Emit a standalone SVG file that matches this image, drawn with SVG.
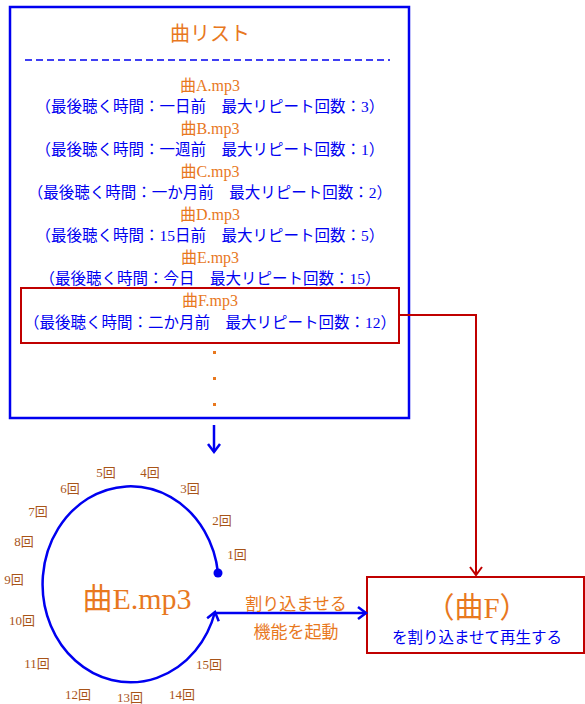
<svg xmlns="http://www.w3.org/2000/svg" width="585" height="704" viewBox="0 0 585 704">
<defs>
<style>
.or{fill:#E8781E;font-family:"Liberation Serif","Noto Sans CJK JP",serif;text-anchor:middle}
.bl{fill:#0000F0;font-family:"Liberation Serif","Noto Sans CJK JP",serif;text-anchor:middle;font-size:15.5px}
.cnt{fill:#A85418;font-family:"Liberation Serif","Noto Sans CJK JP",serif;text-anchor:middle;font-size:13px}
.bline{fill:none;stroke:#0000F0;stroke-width:2.5}
.rline{fill:none;stroke:#C00000;stroke-width:2}
</style>
<marker id="ab" markerWidth="14" markerHeight="14" refX="10" refY="7" orient="auto" markerUnits="userSpaceOnUse">
<path d="M2,1 L10,7 L2,13" fill="none" stroke="#0000F0" stroke-width="2.5"/>
</marker>
<marker id="ar" markerWidth="14" markerHeight="14" refX="10" refY="7" orient="auto" markerUnits="userSpaceOnUse">
<path d="M2,1 L10,7 L2,13" fill="none" stroke="#C00000" stroke-width="2"/>
</marker>
</defs>
<rect width="585" height="704" fill="#fff"/>

<g id="song-list">
<rect x="10" y="7" width="399" height="411" fill="none" stroke="#0000F0" stroke-width="2.5"/>
<text class="or" x="210" y="41" font-size="20">曲リスト</text>
<line x1="25" y1="60" x2="390" y2="60" stroke="#0000F0" stroke-width="1.5" stroke-dasharray="7,4"/>
<text class="or" x="210" y="91" font-size="16">曲A.mp3</text>
<text class="bl" x="210" y="112">（最後聴く時間：一日前　最大リピート回数：3）</text>
<text class="or" x="210" y="134" font-size="16">曲B.mp3</text>
<text class="bl" x="210" y="155">（最後聴く時間：一週前　最大リピート回数：1）</text>
<text class="or" x="210" y="177" font-size="16">曲C.mp3</text>
<text class="bl" x="210" y="198">（最後聴く時間：一か月前　最大リピート回数：2）</text>
<text class="or" x="210" y="220" font-size="16">曲D.mp3</text>
<text class="bl" x="210" y="241">（最後聴く時間：15日前　最大リピート回数：5）</text>
<text class="or" x="210" y="263" font-size="16">曲E.mp3</text>
<text class="bl" x="210" y="284">（最後聴く時間：今日　最大リピート回数：15）</text>
<rect x="213" y="351" width="3" height="3" fill="#E8781E"/>
<rect x="213" y="377" width="3" height="3" fill="#E8781E"/>
<rect x="213" y="403" width="3" height="3" fill="#E8781E"/>
</g>

<g id="song-f">
<rect x="21" y="288" width="378" height="55" fill="none" stroke="#C00000" stroke-width="2"/>
<text class="or" x="210" y="306" font-size="16">曲F.mp3</text>
<text class="bl" x="210" y="328">（最後聴く時間：二か月前　最大リピート回数：12）</text>
</g>

<g id="loop-e">
<text class="or" x="137" y="609" font-size="30">曲E.mp3</text>
<text class="cnt" x="237" y="559">1回</text>
<text class="cnt" x="222" y="525">2回</text>
<text class="cnt" x="190" y="493">3回</text>
<text class="cnt" x="150" y="477">4回</text>
<text class="cnt" x="106" y="477">5回</text>
<text class="cnt" x="70" y="493">6回</text>
<text class="cnt" x="38" y="516">7回</text>
<text class="cnt" x="24" y="546">8回</text>
<text class="cnt" x="14" y="584">9回</text>
<text class="cnt" x="22" y="625">10回</text>
<text class="cnt" x="37" y="668">11回</text>
<text class="cnt" x="78" y="699">12回</text>
<text class="cnt" x="130" y="702">13回</text>
<text class="cnt" x="182" y="699">14回</text>
<text class="cnt" x="209" y="669">15回</text>
</g>

<g id="play-f">
<rect x="367" y="577" width="217" height="76" fill="none" stroke="#C00000" stroke-width="2"/>
<text class="or" x="477" y="618" font-size="29">（曲F）</text>
<text class="bl" x="477" y="643" font-size="17">を割り込ませて再生する</text>
</g>

<g id="connectors">
<line class="bline" x1="214" y1="425" x2="214" y2="452" marker-end="url(#ab)"/>
<polyline class="rline" points="399,315 476,315 476,575" marker-end="url(#ar)"/>
<circle cx="218" cy="573" r="4.5" fill="#0000F0"/>
<path class="bline" d="M218,573 A88,98 0 1 0 215,612" marker-end="url(#ab)"/>
<line class="bline" x1="215" y1="613" x2="366" y2="613" marker-end="url(#ab)"/>
<text class="or" x="296" y="610" font-size="17">割り込ませる</text>
<text class="or" x="296" y="638" font-size="17">機能を起動</text>
</g>
</svg>
